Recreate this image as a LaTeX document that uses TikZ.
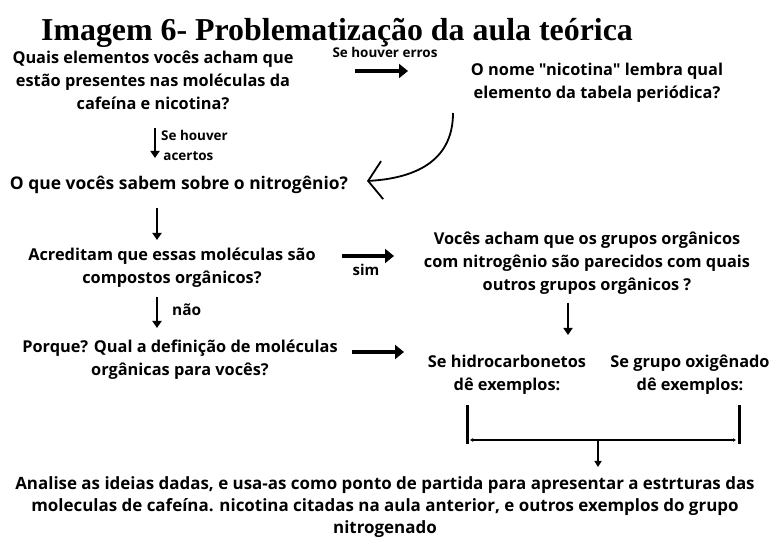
\documentclass[tikz,border=0pt]{standalone}
\usepackage{fontspec}
\setmainfont{Open Sans}[Ligatures=TeXOff]
\newfontfamily\titlefont{Liberation Serif}
\usetikzlibrary{positioning,arrows.meta}

\tikzset{
  qtext/.style={align=center,font=\bfseries\fontsize{16.4}{23}\selectfont,inner sep=0pt},
  lbl/.style={font=\bfseries\fontsize{13.5}{20}\selectfont,inner sep=0pt},
  bigarrow/.style={line width=3.6bp,-{Triangle[length=9bp,width=14bp]}},
  downarrow/.style={line width=2.4bp,-{Triangle[length=7bp,width=9bp]}},
}

\begin{document}
\begin{tikzpicture}[>=latex,line join=bevel,]
\useasboundingbox (0bp,0bp) rectangle (771bp,538bp);
%%
\node (title) at (337bp,505bp) [font=\titlefont\bfseries\fontsize{32}{34}\selectfont,inner sep=0pt] {Imagem 6- Problematização da aula teórica};
  \node (q1) at (153bp,458bp) [qtext] {Quais elementos vocês acham que\\estão presentes nas moléculas da\\cafeína e nicotina?};
  \node (q2) at (597bp,455bp) [qtext] {O nome "nicotina" lembra qual\\elemento da tabela periódica?};
  \node (q3) at (179bp,353bp) [qtext,font=\bfseries\fontsize{17.5}{23}\selectfont] {O que vocês sabem sobre o nitrogênio?};
  \node (q4) at (172bp,270bp) [qtext] {Acreditam que essas moléculas são\\compostos orgânicos?};
  \node (q5) at (587bp,275bp) [qtext] {Vocês acham que os grupos orgânicos\\com nitrogênio são parecidos com quais\\outros grupos orgânicos ?};
  \node (q6) at (180bp,178bp) [qtext] {Porque? Qual a definição de moléculas\\orgânicas para vocês?};
  \node (hc) at (507bp,163bp) [qtext] {Se hidrocarbonetos\\dê exemplos:};
  \node (ox) at (690bp,163bp) [qtext] {Se grupo oxigênado\\dê exemplos:};
  \node (fim) at (385bp,31bp) [qtext,font=\bfseries\fontsize{17}{22}\selectfont] {Analise as ideias dadas, e usa-as como ponto de partida para apresentar a estrturas das\\moleculas de cafeína. nicotina citadas na aula anterior, e outros exemplos do grupo\\nitrogenado};
%
  \node (erros) at (385bp,486bp) [lbl] {Se houver erros};
  \node (acertos) at (161bp,393bp) [lbl,anchor=west,align=left] {Se houver\\\,acertos};
  \node (sim) at (366bp,268bp) [lbl,font=\bfseries\fontsize{15}{18}\selectfont] {sim};
  \node (nao) at (172bp,228bp) [lbl,anchor=west,font=\bfseries\fontsize{15.5}{18}\selectfont] {não};
%
  \coordinate (e1) at (355bp,467bp);  \coordinate (e2) at (408bp,467bp);
  \coordinate (c1) at (453bp,425bp);  \coordinate (c2) at (367bp,357bp);
  \coordinate (a1) at (155bp,410bp);  \coordinate (a2) at (155bp,380bp);
  \coordinate (n1) at (157bp,330bp);  \coordinate (n2) at (157bp,298bp);
  \coordinate (s1) at (342bp,282bp);  \coordinate (s2) at (394bp,282bp);
  \coordinate (d1) at (157bp,241bp);  \coordinate (d2) at (157bp,210bp);
  \coordinate (p1) at (352bp,186bp);  \coordinate (p2) at (404bp,186bp);
  \coordinate (g1) at (568bp,235bp);  \coordinate (g2) at (568bp,203bp);
  \coordinate (bl) at (467bp,98bp);   \coordinate (br) at (739bp,98bp);
  \coordinate (bm) at (598bp,98bp);   \coordinate (bd) at (598bp,71bp);
%
  \draw [bigarrow] (e1) -- (e2);
  \draw [line width=1.8bp,-{Straight Barb[length=14bp,width=38bp]}] (c1) ..controls (453bp,380bp) and (420bp,360bp)  .. (c2);
  \draw [downarrow] (a1) -- (a2);
  \draw [downarrow] (n1) -- (n2);
  \draw [bigarrow] (s1) -- (s2);
  \draw [downarrow] (d1) -- (d2);
  \draw [bigarrow] (p1) -- (p2);
  \draw [downarrow] (g1) -- (g2);
  \draw [line width=3bp] ([yshift=35bp]bl) -- ([yshift=-4bp]bl);
  \draw [line width=3bp] ([yshift=35bp]br) -- ([yshift=-4bp]br);
  \draw [line width=1.6bp,{Latex[length=3bp,width=4bp]}-{Latex[length=3bp,width=4bp]}] ([xshift=3bp]bl) -- ([xshift=-3bp]br);
  \draw [line width=1.6bp,-{Triangle[length=6bp,width=7bp]}] (bm) -- (bd);
%
\end{tikzpicture}
\end{document}
